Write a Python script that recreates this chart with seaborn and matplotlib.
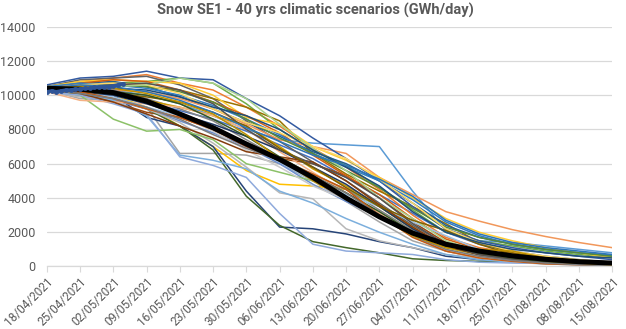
import numpy as np
import pandas as pd
import matplotlib
matplotlib.use("Agg")
import matplotlib.pyplot as plt
import seaborn as sns

# ---------------- data ----------------
week_dates = pd.date_range("2021-04-18", "2021-08-15", freq="7D")
tick_labels = [d.strftime("%d/%m/%Y") for d in week_dates]

scenario_colors = [
    "#4472C4", "#ED7D31", "#A5A5A5", "#FFC000", "#5B9BD5", "#70AD47",
    "#264478", "#9E480E", "#636363", "#997300", "#255E91", "#43682B",
    "#698ED0", "#F1975A", "#B7B7B7", "#FFCD33", "#7CAFDD", "#8CC168",
    "#335AA1", "#D26012", "#848484", "#CC9A00", "#327DC2", "#5A8A39",
    "#8FAADC", "#F4B183", "#C9C9C9", "#FFD966", "#9DC3E6", "#A9D18E",
    "#1F3864", "#843C0C", "#525252", "#7F6000", "#1F4E79", "#385723",
    "#2E75B6", "#C55A11", "#7B7B7B", "#BF9000",
]

s01 = [10300, 10200, 10000, 9600, 9100, 8600, 7900, 7100, 6300, 5200, 4200, 3100, 2000, 1300, 900, 600, 400, 250]
s02 = [10500, 10800, 11000, 11200, 10700, 10300, 9300, 8200, 6900, 5800, 4500, 3000, 1700, 1100, 800, 500, 300, 150]
s03 = [10300, 9800, 9700, 9300, 6600, 6600, 6500, 6000, 5000, 3800, 2600, 1500, 900, 600, 400, 300, 250, 200]
s04 = [10400, 10300, 10000, 9300, 8200, 7000, 5600, 4800, 4700, 4500, 3500, 2200, 1200, 800, 600, 400, 300, 200]
s05 = [10400, 10500, 10300, 10000, 9500, 8800, 8000, 7400, 7200, 7100, 7000, 4400, 2100, 1500, 1400, 1200, 1000, 800]
s06 = [10400, 10600, 10700, 10800, 11000, 10700, 9500, 8000, 6800, 5900, 4600, 3300, 2000, 1500, 1200, 900, 700, 550]
s07 = [10300, 10300, 10000, 8700, 8200, 7000, 4400, 2300, 2200, 1900, 1450, 1100, 600, 400, 300, 250, 200, 150]
s08 = [10300, 10000, 9600, 9000, 8700, 8000, 7200, 6300, 6000, 5300, 4000, 2600, 1400, 900, 600, 400, 300, 200]
s09 = [10500, 10900, 11000, 11100, 10600, 9800, 8500, 7300, 6100, 5000, 3700, 2400, 1300, 900, 600, 400, 300, 200]
s10 = [10400, 10600, 10700, 10500, 10300, 9800, 9300, 8500, 6600, 5400, 4400, 3500, 2500, 1400, 800, 500, 300, 150]
s11 = [10500, 10700, 10800, 10500, 9900, 9200, 8400, 7600, 6700, 6000, 5000, 3700, 2400, 1700, 1300, 1000, 800, 650]
s12 = [10300, 10100, 9800, 9200, 8200, 6800, 4100, 2400, 1450, 1100, 800, 450, 350, 300, 280, 250, 230, 200]
s13 = [10200, 10100, 9700, 9200, 8500, 7800, 7000, 6000, 4800, 3800, 2900, 1800, 900, 500, 300, 200, 150, 100]
s14 = [10300, 10400, 10300, 10200, 9800, 9200, 8300, 7400, 7000, 6600, 5200, 4200, 3200, 2650, 2150, 1750, 1400, 1100]
s15 = [10200, 9900, 9800, 9200, 8400, 7200, 5800, 4300, 3950, 2200, 1500, 1100, 700, 500, 300, 200, 150, 100]
s16 = [10500, 10800, 10900, 10800, 10700, 10000, 8700, 8300, 7000, 6200, 5200, 4000, 2800, 2000, 1500, 1100, 800, 500]
s17 = [10300, 10100, 9700, 8800, 6500, 6200, 5700, 4400, 3700, 2800, 2000, 1300, 700, 400, 250, 150, 100, 80]
s18 = [10300, 10000, 8600, 7900, 8000, 7400, 6000, 5500, 5000, 4500, 3500, 2200, 1100, 700, 500, 350, 250, 200]
s19 = [10600, 11000, 11100, 11400, 11000, 10900, 9800, 8800, 7500, 6300, 5000, 3500, 2200, 1500, 1100, 800, 600, 400]
s20 = [10400, 10700, 10900, 10800, 10300, 9600, 8800, 7800, 6500, 5300, 4200, 2800, 1600, 1000, 600, 350, 200, 100]
s21 = [10300, 10400, 10300, 9800, 9200, 8500, 7400, 6300, 5400, 4500, 3300, 2100, 1300, 800, 500, 300, 200, 100]
s22 = [10400, 10300, 10100, 9700, 9300, 8800, 8200, 7000, 5700, 4700, 3600, 2300, 1100, 700, 400, 200, 150, 100]
s23 = [10500, 10700, 10600, 10400, 10000, 9400, 8600, 7700, 6600, 5800, 5000, 3900, 2600, 1800, 1300, 1000, 800, 650]
s24 = [10400, 10500, 10600, 10500, 10200, 9600, 8600, 7500, 6600, 5600, 4600, 3400, 2300, 1700, 1300, 1000, 800, 600]
s25 = [10200, 10000, 9500, 8900, 6400, 5900, 5200, 3100, 1300, 900, 800, 700, 400, 250, 200, 180, 150, 150]
s26 = [10200, 9700, 9600, 9500, 9300, 8800, 8000, 6700, 5500, 4300, 3100, 1900, 900, 500, 300, 200, 100, 50]
s27 = [10300, 10200, 10000, 9500, 8800, 7900, 6800, 5800, 4700, 3900, 3000, 2000, 1000, 500, 300, 150, 100, 50]
s28 = [10400, 10600, 10700, 10600, 10100, 9200, 8400, 7800, 7000, 6300, 5100, 3700, 2200, 1400, 900, 600, 400, 250]
s29 = [10300, 10200, 9900, 9300, 8800, 8200, 7200, 6100, 5000, 4200, 3500, 2600, 1800, 1000, 500, 300, 150, 100]
s30 = [10300, 10400, 10500, 10600, 11000, 10700, 9800, 8300, 6900, 5600, 4000, 2800, 1500, 900, 500, 300, 150, 100]
s31 = [10300, 10200, 10000, 9500, 8900, 8300, 7600, 6800, 5800, 4800, 3500, 2200, 1200, 700, 400, 250, 150, 100]
s32 = [10300, 10100, 9600, 8900, 8200, 7500, 6700, 6400, 6100, 5000, 3600, 2300, 1200, 700, 400, 250, 150, 80]
s33 = [10400, 10500, 10600, 10700, 10300, 9500, 8000, 6800, 6000, 5200, 4000, 2500, 1300, 700, 400, 250, 150, 100]
s34 = [10300, 10200, 10100, 9900, 9600, 9000, 8200, 6900, 5800, 4600, 3500, 2700, 2100, 1300, 700, 300, 150, 100]
s35 = [10400, 10500, 10400, 10300, 9900, 9300, 8800, 8000, 6800, 5800, 4700, 3200, 2000, 1400, 1000, 800, 600, 500]
s36 = [10300, 10300, 10200, 10000, 9500, 8600, 7600, 6400, 5300, 4300, 3200, 2000, 1200, 800, 500, 300, 200, 100]
s37 = [10400, 10600, 10500, 10200, 9700, 9000, 8100, 7300, 6500, 5900, 5100, 4100, 2700, 1900, 1400, 1100, 900, 700]
s38 = [10300, 10200, 9800, 9200, 8700, 8000, 7000, 6200, 5400, 4500, 3000, 1700, 900, 500, 300, 150, 100, 50]
s39 = [10300, 10100, 9800, 9300, 8600, 7700, 6900, 6200, 5300, 4300, 3000, 1800, 1000, 600, 350, 200, 100, 50]
s40 = [10400, 10500, 10400, 10100, 9600, 8900, 7700, 6300, 5000, 4000, 2900, 1800, 1100, 1000, 900, 500, 200, 100]

scenarios = [s01, s02, s03, s04, s05, s06, s07, s08, s09, s10,
             s11, s12, s13, s14, s15, s16, s17, s18, s19, s20,
             s21, s22, s23, s24, s25, s26, s27, s28, s29, s30,
             s31, s32, s33, s34, s35, s36, s37, s38, s39, s40]

mean_values = [10400, 10350, 10150, 9650, 8900, 8100, 7150, 6250, 5200, 4000,
               2900, 1950, 1300, 900, 620, 420, 280, 200]

observed_dates = pd.date_range("2021-04-18", "2021-05-04", freq="D")
observed_values = [10200, 10250, 10200, 10250, 10300, 10300, 10350, 10350, 10400,
                   10400, 10450, 10450, 10500, 10500, 10550, 10600, 10650]

title = "Snow SE1 - 40 yrs climatic scenarios (GWh/day)"

# ---------------- plot ----------------
sns.set_theme(style="white")
plt.rcParams["font.family"] = ["Roboto", "DejaVu Sans"]

rows = []
for i, vals in enumerate(scenarios):
    for d, v in zip(week_dates, vals):
        rows.append({"date": d, "value": v, "scenario": f"S{i+1:02d}"})
df = pd.DataFrame(rows)
df_mean = pd.DataFrame({"date": week_dates, "value": mean_values})
df_obs = pd.DataFrame({"date": observed_dates, "value": observed_values})

fig = plt.figure(figsize=(6.26, 3.29), dpi=100)
ax = fig.add_axes([0.0748, 0.19, 0.903, 0.729])

sns.lineplot(data=df, x="date", y="value", hue="scenario",
             palette=scenario_colors, legend=False, linewidth=1.1, ax=ax,
             estimator=None)
sns.lineplot(data=df_mean, x="date", y="value", color="black",
             linewidth=3.6, ax=ax, estimator=None)
sns.lineplot(data=df_obs, x="date", y="value", color="#2F5597",
             linewidth=2.5, marker="o", markersize=3.5, markeredgewidth=0,
             ax=ax, estimator=None)

ax.set_xlim(week_dates[0], week_dates[-1])
ax.set_ylim(0, 14000)
ax.set_yticks(np.arange(0, 14001, 2000))
ax.set_xticks(week_dates)
ax.set_xticklabels(tick_labels, rotation=45, ha="right",
                   rotation_mode="anchor", fontsize=8.5, color="#595959")
ax.tick_params(axis="y", labelsize=9, labelcolor="#595959", length=0, pad=8)
ax.tick_params(axis="x", length=4, width=0.8, color="#D9D9D9",
               direction="out", pad=2, bottom=True)
ax.set_xlabel("")
ax.set_ylabel("")
ax.grid(axis="y", color="#D9D9D9", linewidth=0.9)
ax.grid(axis="x", visible=False)
for side in ["top", "right", "left"]:
    ax.spines[side].set_visible(False)
ax.spines["bottom"].set_color("#D9D9D9")
ax.spines["bottom"].set_linewidth(0.9)
ax.set_axisbelow(True)

fig.suptitle(title, x=0.503, y=0.99, fontsize=10.5, fontweight="bold",
             color="#595959")

fig.savefig("out.png", dpi=100)
